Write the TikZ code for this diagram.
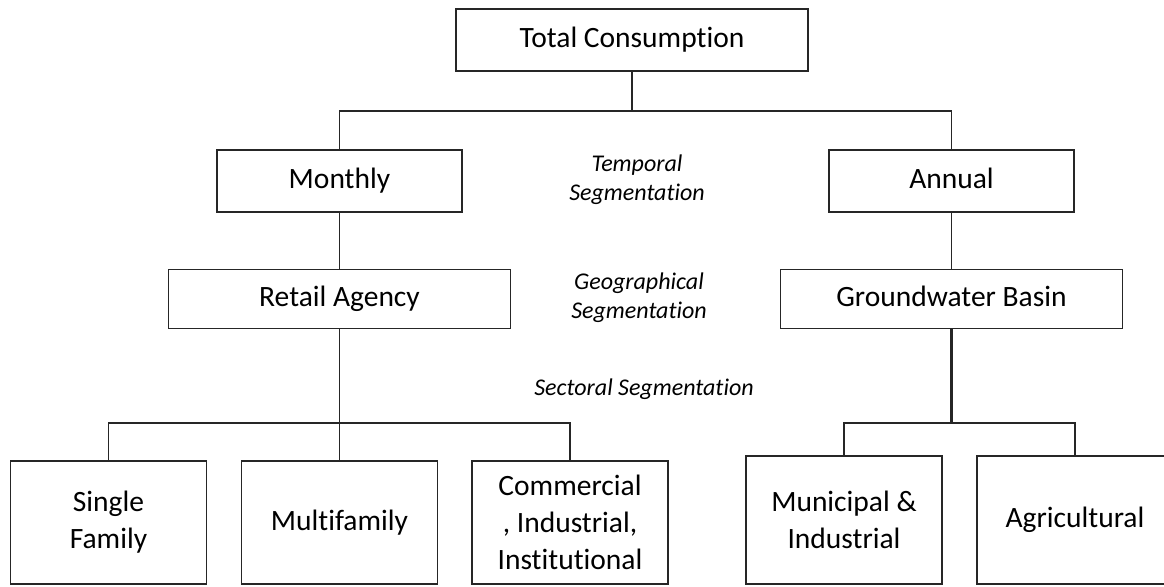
\documentclass[tikz,border=0pt]{standalone}
\usepackage{fontspec}
\setmainfont{Carlito}[Ligatures=NoCommon]
\usepackage{tikz}
\usetikzlibrary{positioning}

\begin{document}
\begin{tikzpicture}[x=0.5pt, y=-0.5pt, node distance=59pt,
    level/.style={rectangle, draw=black!85, line width=0.7pt, inner sep=0pt, align=center, font=\fontsize{14.75}{18.5}\selectfont},
    oneline/.style={text height=10pt, text depth=2.5pt},
    topbox/.style={level, oneline, minimum width=176pt, minimum height=31pt},
    timebox/.style={level, oneline, minimum width=122.5pt, minimum height=31pt},
    areabox/.style={level, oneline, minimum width=171pt, minimum height=29.75pt},
    sectorbox/.style={level, minimum width=98pt, minimum height=61.5pt},
    basinbox/.style={level, minimum width=98pt, minimum height=64pt},
    segment/.style={align=center, inner sep=0pt, font=\fontsize{12}{14.5}\selectfont\itshape},
    link/.style={draw=black!85, line width=0.6pt}]

    \useasboundingbox (0,0) rectangle (1164,586);
    \clip (0,0) rectangle (1164,586);

    \node [topbox] (total) at (632,40) {Total Consumption};
    \node [timebox] (monthly) at (339.5,181) {Monthly};
    \node [timebox] (annual) at (951.5,181) {Annual};
    \node [areabox, below of=monthly] (retail) {Retail Agency};
    \node [areabox, below of=annual] (basin) {Groundwater Basin};

    \node [sectorbox] (single) at (108.5,522.5) {Single\\Family};
    \node [sectorbox, oneline] (multi) at (339.5,522.5) {Multifamily};
    \node [sectorbox] (comm) at (570,522.5) {Commercial\\, Industrial,\\Institutional};
    \node [basinbox] (muni) at (844,520) {Municipal \&\\Industrial};
    \node [basinbox, oneline] (agri) at (1075,520) {Agricultural};

    \node [segment] (temporal) at (637,180) {Temporal\\Segmentation};
    \node [segment] (geo) at (639,298) {Geographical\\Segmentation};
    \node [segment] (sector) at (644,389) {Sectoral Segmentation};

    \coordinate (tsplit) at (632,111);
    \coordinate (rsplit) at (339.5,423);
    \coordinate (gsplit) at (951.5,423);

    \draw [link] (total.south) -- (tsplit);
    \draw [link] (monthly.north) |- (tsplit) -| (annual.north);
    \draw [link] (monthly) -- (retail);
    \draw [link] (annual) -- (basin);
    \draw [link] (retail.south) -- (multi.north);
    \draw [link] (single.north) |- (rsplit) -| (comm.north);
    \draw [link, line width=1.3pt] (basin.south) -- (gsplit);
    \draw [link] (muni.north) |- (gsplit) -| (agri.north);

\end{tikzpicture}
\end{document}
